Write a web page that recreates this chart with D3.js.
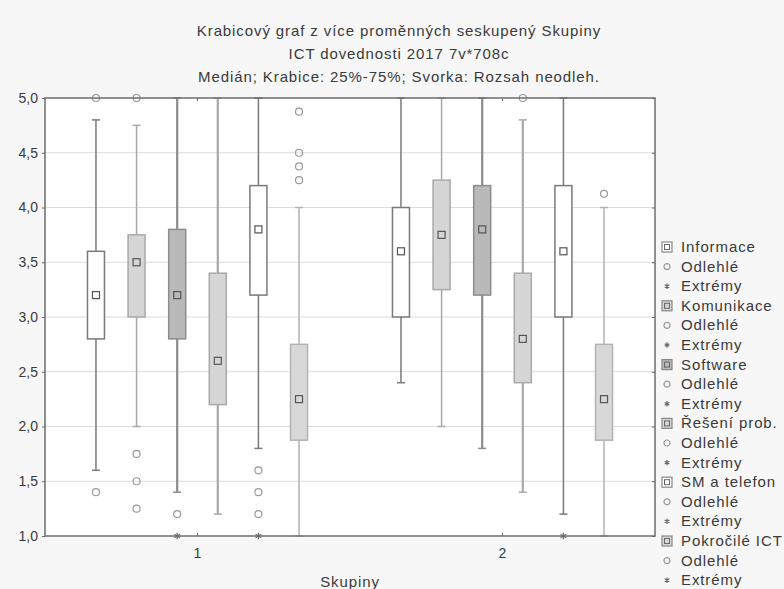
<!DOCTYPE html>
<html>
<head>
<meta charset="utf-8">
<script src="https://cdn.jsdelivr.net/npm/d3@7"></script>
<style>
  body { margin: 0; background: #f7f7f7; }
  text { font-family: "Liberation Sans", Arial, sans-serif; fill: #3a3a3a; }
</style>
</head>
<body>
<div id="chart"></div>
<script>
// groups and variables
const groups = ["1", "2"];
const variables = ["Informace", "Komunikace", "Software", "Řešení prob.", "SM a telefon", "Pokročilé ICT"];
const yTicks = [1.0, 1.5, 2.0, 2.5, 3.0, 3.5, 4.0, 4.5, 5.0];

// group 1
const median1 = [3.2, 3.5, 3.2, 2.6, 3.8, 2.25];
const q1_1    = [2.8, 3.0, 2.8, 2.2, 3.2, 1.875];
const q3_1    = [3.6, 3.75, 3.8, 3.4, 4.2, 2.75];
const low1    = [1.6, 2.0, 1.4, 1.2, 1.8, 1.0];
const high1   = [4.8, 4.75, 5.0, 5.0, 5.0, 4.0];
const outl1   = [[1.4, 5.0], [1.75, 1.5, 1.25, 5.0], [1.2], [], [1.6, 1.4, 1.2], [4.875, 4.5, 4.375, 4.25]];
const extr1   = [[], [], [1.0], [], [1.0], []];

// group 2
const median2 = [3.6, 3.75, 3.8, 2.8, 3.6, 2.25];
const q1_2    = [3.0, 3.25, 3.2, 2.4, 3.0, 1.875];
const q3_2    = [4.0, 4.25, 4.2, 3.4, 4.2, 2.75];
const low2    = [2.4, 2.0, 1.8, 1.4, 1.2, 1.0];
const high2   = [5.0, 5.0, 5.0, 4.8, 5.0, 4.0];
const outl2   = [[], [], [], [5.0], [], [4.125]];
const extr2   = [[], [], [], [], [1.0], []];

const fills = ["#ffffff", "#d6d6d6", "#b9b9b9", "#d6d6d6", "#ffffff", "#d8d8d8"];
const strokes = ["#7a7a7a", "#a9a9a9", "#8c8c8c", "#a9a9a9", "#7a7a7a", "#b3b3b3"];

const W = 784, H = 589;
const plot = {left: 45, right: 655, top: 98, bottom: 536};

const svg = d3.select("#chart").append("svg")
    .attr("width", W)
    .attr("height", H);

const x0 = d3.scaleBand().domain(groups).range([plot.left, plot.right]);
const x1 = d3.scaleBand().domain(variables).range([0, x0.bandwidth()])
    .paddingInner(0).paddingOuter(0.755);
const y = d3.scaleLinear().domain([1, 5]).range([plot.bottom, plot.top]);
const boxW = 17;

// plot background
svg.append("rect")
    .attr("x", plot.left).attr("y", plot.top)
    .attr("width", plot.right - plot.left)
    .attr("height", plot.bottom - plot.top)
    .attr("fill", "#fff");

// grid
svg.append("g").selectAll("line")
    .data(yTicks.slice(1, -1))
    .enter().append("line")
    .attr("x1", plot.left).attr("x2", plot.right)
    .attr("y1", d => y(d)).attr("y2", d => y(d))
    .attr("stroke", "#dcdcdc").attr("stroke-width", 1);

// build rows
const stats = [
    {median: median1, q1: q1_1, q3: q3_1, low: low1, high: high1, outl: outl1, extr: extr1},
    {median: median2, q1: q1_2, q3: q3_2, low: low2, high: high2, outl: outl2, extr: extr2}
];
const rows = [];
groups.forEach((g, gi) => {
    variables.forEach((v, vi) => {
        const s = stats[gi];
        rows.push({
            group: g, variable: v, vi: vi,
            median: s.median[vi], q1: s.q1[vi], q3: s.q3[vi],
            low: s.low[vi], high: s.high[vi],
            outl: s.outl[vi], extr: s.extr[vi]
        });
    });
});
const cx = d => x0(d.group) + x1(d.variable) + x1.bandwidth() / 2;

const boxes = svg.append("g").selectAll("g")
    .data(rows)
    .enter().append("g");

// whiskers
boxes.append("line")
    .attr("x1", cx).attr("x2", cx)
    .attr("y1", d => y(d.low)).attr("y2", d => y(d.high))
    .attr("stroke", d => strokes[d.vi])
    .attr("stroke-width", d => d.vi === 2 || d.vi === 3 ? 2.2 : 1.5);
boxes.append("line")
    .attr("x1", d => cx(d) - 4).attr("x2", d => cx(d) + 4)
    .attr("y1", d => y(d.low)).attr("y2", d => y(d.low))
    .attr("stroke", d => strokes[d.vi]).attr("stroke-width", 1.5);
boxes.append("line")
    .attr("x1", d => cx(d) - 4).attr("x2", d => cx(d) + 4)
    .attr("y1", d => y(d.high)).attr("y2", d => y(d.high))
    .attr("stroke", d => strokes[d.vi]).attr("stroke-width", 1.5);

// boxes
boxes.append("rect")
    .attr("x", d => cx(d) - boxW / 2)
    .attr("y", d => y(d.q3))
    .attr("width", boxW)
    .attr("height", d => y(d.q1) - y(d.q3))
    .attr("fill", d => fills[d.vi])
    .attr("stroke", d => strokes[d.vi])
    .attr("stroke-width", 1.5);

// median marker
boxes.append("rect")
    .attr("x", d => cx(d) - 3.5)
    .attr("y", d => y(d.median) - 3.5)
    .attr("width", 7).attr("height", 7)
    .attr("fill", d => fills[d.vi])
    .attr("stroke", "#555").attr("stroke-width", 1.2);

// outliers
boxes.selectAll("circle")
    .data(d => d.outl.map(o => ({x: cx(d), v: o})))
    .enter().append("circle")
    .attr("cx", d => d.x).attr("cy", d => y(d.v))
    .attr("r", 3.5)
    .attr("fill", "none").attr("stroke", "#9a9a9a").attr("stroke-width", 1.2);

// extremes
const star = d3.symbol().type(d3.symbolAsterisk).size(30);
boxes.selectAll("path.extr")
    .data(d => d.extr.map(o => ({x: cx(d), v: o})))
    .enter().append("path")
    .attr("class", "extr")
    .attr("d", star)
    .attr("transform", d => `translate(${d.x}, ${y(d.v)})`)
    .attr("stroke", "#666").attr("stroke-width", 1.2).attr("fill", "none");

// frame
svg.append("rect")
    .attr("x", plot.left).attr("y", plot.top)
    .attr("width", plot.right - plot.left)
    .attr("height", plot.bottom - plot.top)
    .attr("fill", "none")
    .attr("stroke", "#6e6e6e").attr("stroke-width", 1.5);

// axes
const fmt = d => d3.format(".1f")(d).replace(".", ",");
const yAxis = svg.append("g")
    .attr("transform", `translate(${plot.left}, 0)`)
    .call(d3.axisLeft(y).tickValues(yTicks).tickFormat(fmt).tickSize(3).tickPadding(4));
yAxis.select(".domain").remove();
yAxis.selectAll("line").attr("stroke", "#666");
yAxis.selectAll("text").style("font-size", "14px").style("fill", "#3a3a3a");

const yAxisR = svg.append("g")
    .attr("transform", `translate(${plot.right}, 0)`)
    .call(d3.axisLeft(y).tickValues(yTicks).tickFormat("").tickSize(3));
yAxisR.select(".domain").remove();
yAxisR.selectAll("line").attr("stroke", "#666");

const xAxis = svg.append("g")
    .attr("transform", `translate(0, ${plot.bottom})`)
    .call(d3.axisBottom(x0).tickSize(-3).tickPadding(12));
xAxis.select(".domain").remove();
xAxis.selectAll("line").attr("stroke", "#666");
xAxis.selectAll("text").style("font-size", "14px").style("fill", "#3a3a3a");

const xAxisT = svg.append("g")
    .attr("transform", `translate(0, ${plot.top})`)
    .call(d3.axisTop(x0).tickSize(-3).tickFormat(""));
xAxisT.select(".domain").remove();
xAxisT.selectAll("line").attr("stroke", "#666");

// titles
const titles = ["Krabicový graf z více proměnných seskupený Skupiny",
    "ICT dovednosti 2017 7v*708c",
    "Medián; Krabice: 25%-75%; Svorka: Rozsah neodleh."];
svg.append("g").selectAll("text")
    .data(titles)
    .enter().append("text")
    .attr("x", 399)
    .attr("y", (d, i) => 36 + i * 23)
    .attr("text-anchor", "middle")
    .style("font-size", "15px")
    .style("letter-spacing", "0.9px")
    .text(d => d);

svg.append("text")
    .attr("x", (plot.left + plot.right) / 2)
    .attr("y", 587)
    .attr("text-anchor", "middle")
    .style("font-size", "15px")
    .style("letter-spacing", "0.9px")
    .text("Skupiny");

// legend
const legendRows = [];
variables.forEach((v, vi) => {
    legendRows.push({type: "box", label: v, vi: vi});
    legendRows.push({type: "outl", label: "Odlehlé", vi: vi});
    legendRows.push({type: "extr", label: "Extrémy", vi: vi});
});
const leg = svg.append("g")
    .attr("transform", "translate(667, 247)");
const li = leg.selectAll("g")
    .data(legendRows)
    .enter().append("g")
    .attr("transform", (d, i) => `translate(0, ${i * 19.6})`);
li.filter(d => d.type === "box").append("rect")
    .attr("x", -5).attr("y", -5).attr("width", 10).attr("height", 10)
    .attr("fill", d => fills[d.vi]).attr("stroke", "#888").attr("stroke-width", 1.2);
li.filter(d => d.type === "box").append("rect")
    .attr("x", -2.5).attr("y", -2.5).attr("width", 5).attr("height", 5)
    .attr("fill", "none").attr("stroke", "#666").attr("stroke-width", 1);
li.filter(d => d.type === "outl").append("circle")
    .attr("r", 3).attr("fill", "none").attr("stroke", "#999").attr("stroke-width", 1.2);
li.filter(d => d.type === "extr").append("path")
    .attr("d", d3.symbol().type(d3.symbolAsterisk).size(20))
    .attr("stroke", "#666").attr("stroke-width", 1.2).attr("fill", "none");
li.append("text")
    .attr("x", 14).attr("y", 5)
    .style("font-size", "15px")
    .style("letter-spacing", "0.9px")
    .text(d => d.label);
</script>
</body>
</html>
